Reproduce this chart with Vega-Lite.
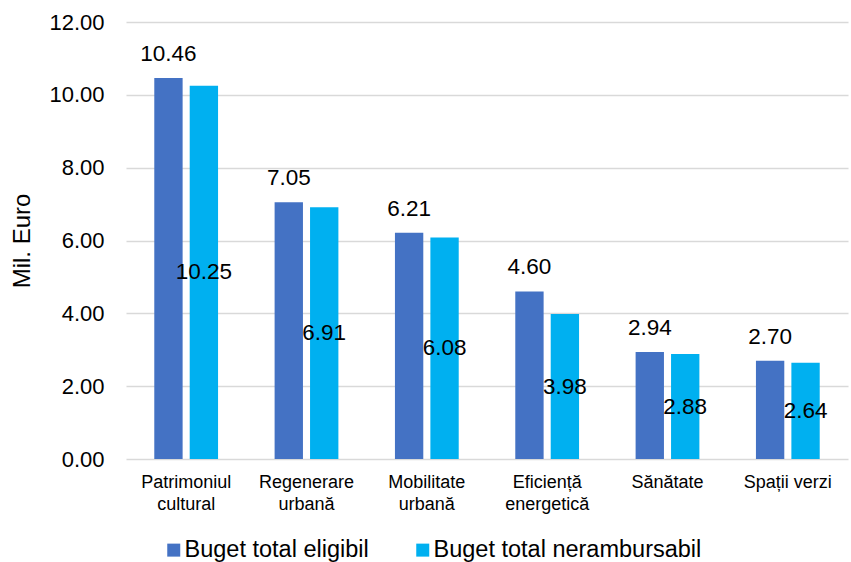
{
  "$schema": "https://vega.github.io/schema/vega-lite/v6.json",
  "width": 722,
  "height": 437,
  "autosize": {"type": "none"},
  "padding": {"left": 126, "top": 22, "right": 3, "bottom": 103},
  "background": "white",
  "config": {
    "font": "Liberation Sans",
    "view": {"stroke": null},
    "axis": {"labelColor": "#000", "titleColor": "#000", "labelFont": "Liberation Sans", "titleFont": "Liberation Sans"}
  },
  "data": {
    "values": [
      {"categorie": "Patrimoniul cultural", "serie": "Buget total eligibil", "valoare": 10.46},
      {"categorie": "Patrimoniul cultural", "serie": "Buget total nerambursabil", "valoare": 10.25},
      {"categorie": "Regenerare urbană", "serie": "Buget total eligibil", "valoare": 7.05},
      {"categorie": "Regenerare urbană", "serie": "Buget total nerambursabil", "valoare": 6.91},
      {"categorie": "Mobilitate urbană", "serie": "Buget total eligibil", "valoare": 6.21},
      {"categorie": "Mobilitate urbană", "serie": "Buget total nerambursabil", "valoare": 6.08},
      {"categorie": "Eficiență energetică", "serie": "Buget total eligibil", "valoare": 4.60},
      {"categorie": "Eficiență energetică", "serie": "Buget total nerambursabil", "valoare": 3.98},
      {"categorie": "Sănătate", "serie": "Buget total eligibil", "valoare": 2.94},
      {"categorie": "Sănătate", "serie": "Buget total nerambursabil", "valoare": 2.88},
      {"categorie": "Spații verzi", "serie": "Buget total eligibil", "valoare": 2.70},
      {"categorie": "Spații verzi", "serie": "Buget total nerambursabil", "valoare": 2.64}
    ]
  },
  "encoding": {
    "x": {
      "field": "categorie",
      "type": "nominal",
      "sort": null,
      "scale": {"paddingInner": 0.47, "paddingOuter": 0.235},
      "axis": {
        "title": null,
        "domain": false,
        "ticks": false,
        "labelAngle": 0,
        "labelFontSize": 18,
        "labelLineHeight": 22,
        "labelPadding": 23,
        "labelBaseline": "middle",
        "labelExpr": "datum.value == 'Spații verzi' || datum.value == 'Sănătate' ? datum.value : split(datum.value, ' ')"
      }
    },
    "xOffset": {
      "field": "serie",
      "type": "nominal",
      "sort": null,
      "scale": {"paddingInner": 0.2, "paddingOuter": 0}
    }
  },
  "layer": [
    {
      "mark": {"type": "bar"},
      "encoding": {
        "y": {
          "field": "valoare",
          "type": "quantitative",
          "scale": {"domain": [0, 12], "nice": false},
          "axis": {
            "title": "Mil. Euro",
            "titleFontSize": 24,
            "titleFontWeight": "normal",
            "titleX": -104,
            "titleY": 218.5,
            "titleAngle": -90,
            "titleAlign": "center",
            "titleBaseline": "middle",
            "values": [0, 2, 4, 6, 8, 10, 12],
            "format": ".2f",
            "labelFontSize": 22,
            "labelPadding": 22,
            "domain": false,
            "ticks": false,
            "gridColor": "#D9D9D9",
            "gridWidth": 1.5
          }
        },
        "color": {
          "field": "serie",
          "type": "nominal",
          "scale": {"domain": ["Buget total eligibil", "Buget total nerambursabil"], "range": ["#4472C4", "#00B0F0"]},
          "legend": {
            "title": null,
            "orient": "none",
            "direction": "horizontal",
            "legendX": 36,
            "legendY": 516,
            "padding": 0,
            "symbolType": "square",
            "symbolSize": 169,
            "symbolStrokeWidth": 0,
            "labelFontSize": 23.5,
            "labelColor": "#000",
            "labelOffset": -1,
            "columnPadding": 42,
            "labelLimit": 400
          }
        }
      }
    },
    {
      "transform": [{"filter": "datum.serie == 'Buget total eligibil'"}],
      "mark": {"type": "text", "baseline": "middle", "dy": -24, "fontSize": 22.5, "color": "#000"},
      "encoding": {
        "y": {"field": "valoare", "type": "quantitative", "scale": {"domain": [0, 12], "nice": false}, "axis": null},
        "text": {"field": "valoare", "type": "quantitative", "format": ".2f"}
      }
    },
    {
      "transform": [{"filter": "datum.serie == 'Buget total nerambursabil'"}],
      "mark": {"type": "text", "baseline": "middle", "fontSize": 22.5, "color": "#000"},
      "encoding": {
        "y": {"field": "valoare", "type": "quantitative", "scale": {"domain": [0, 24], "nice": false}, "axis": null},
        "text": {"field": "valoare", "type": "quantitative", "format": ".2f"}
      }
    }
  ],
  "resolve": {"scale": {"y": "independent"}}
}
